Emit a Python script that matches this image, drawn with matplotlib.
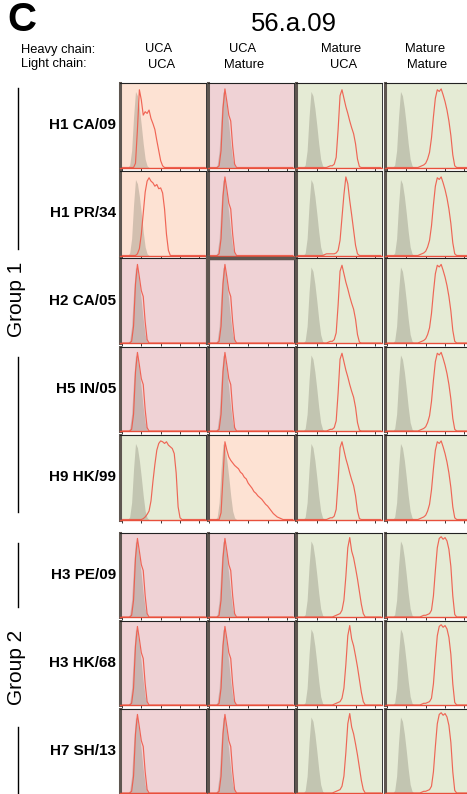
import matplotlib
matplotlib.use("Agg")
import matplotlib.pyplot as plt
from matplotlib.lines import Line2D

plt.rcParams['font.family'] = ['Liberation Sans', 'DejaVu Sans']

# ---------------- data ----------------
TITLE = "56.a.09"
PANEL_LETTER = "C"
HEAVY = ["UCA", "UCA", "Mature", "Mature"]
LIGHT = ["UCA", "Mature", "UCA", "Mature"]
ROWS = ["H1 CA/09", "H1 PR/34", "H2 CA/05", "H5 IN/05", "H9 HK/99",
        "H3 PE/09", "H3 HK/68", "H7 SH/13"]
GROUPS = ["Group 1", "Group 2"]

# log-fluorescence bin centres (decades)
BINS = [-0.1, 0.0, 0.1, 0.2, 0.3, 0.4, 0.5, 0.6, 0.7, 0.8, 0.9, 1.0, 1.1, 1.2, 1.3,
        1.4, 1.5, 1.6, 1.7, 1.8, 1.9, 2.0, 2.1, 2.2, 2.3, 2.4, 2.5, 2.6, 2.7, 2.8,
        2.9, 3.0, 3.1, 3.2, 3.3, 3.4, 3.5, 3.6, 3.7, 3.8, 3.9, 4.0, 4.1, 4.2, 4.3]

# grey filled control histogram (% of max)
CONTROL = [0, 0, 0, 0, 0, 3, 20, 60, 90, 85, 70, 50, 28, 10, 2,
           0, 0, 0, 0, 0, 0, 0, 0, 0, 0, 0, 0, 0, 0, 0,
           0, 0, 0, 0, 0, 0, 0, 0, 0, 0, 0, 0, 0, 0, 0]

# red line histograms, one per distinct shape
NEG = [0, 0, 0, 0, 0, 0, 2, 20, 70, 93, 78, 62, 55, 25, 4,
       0, 0, 0, 0, 0, 0, 0, 0, 0, 0, 0, 0, 0, 0, 0,
       0, 0, 0, 0, 0, 0, 0, 0, 0, 0, 0, 0, 0, 0, 0]
O1 = [0, 0, 0, 0, 0, 0, 0, 0, 5, 45, 92, 80, 62, 66, 64,
      68, 58, 52, 45, 32, 20, 8, 2, 0, 0, 0, 0, 0, 0, 0,
      0, 0, 0, 0, 0, 0, 0, 0, 0, 0, 0, 0, 0, 0, 0]
O2 = [0, 0, 0, 0, 0, 0, 0, 0, 0, 2, 8, 25, 50, 75, 88,
      92, 88, 86, 82, 84, 79, 80, 74, 55, 25, 6, 0, 0, 0, 0,
      0, 0, 0, 0, 0, 0, 0, 0, 0, 0, 0, 0, 0, 0, 0]
G5 = [0, 0, 0, 0, 0, 0, 0, 0, 0, 0, 0, 0, 1, 3, 6,
      10, 22, 45, 65, 82, 90, 93, 92, 90, 92, 88, 86, 84, 78, 55,
      15, 2, 0, 0, 0, 0, 0, 0, 0, 0, 0, 0, 0, 0, 0]
O5 = [0, 0, 0, 0, 0, 0, 0, 8, 50, 92, 82, 74, 70, 67, 64,
      62, 60, 56, 54, 50, 48, 43, 40, 37, 33, 31, 28, 26, 24, 21,
      18, 16, 13, 10, 7, 5, 3, 2, 1, 0, 0, 0, 0, 0, 0]
G3A = [0, 0, 0, 0, 0, 0, 0, 0, 0, 0, 0, 0, 0, 0, 0,
       0, 0, 1, 2, 2, 4, 12, 45, 85, 92, 82, 72, 64, 55, 47,
       40, 28, 10, 1, 0, 0, 0, 0, 0, 0, 0, 0, 0, 0, 0]
G3P = [0, 0, 0, 0, 0, 0, 0, 0, 0, 0, 0, 0, 0, 0, 0,
       1, 2, 2, 2, 2, 2, 3, 6, 18, 45, 72, 93, 85, 65, 48,
       30, 12, 2, 0, 0, 0, 0, 0, 0, 0, 0, 0, 0, 0, 0]
G3B = [0, 0, 0, 0, 0, 0, 0, 0, 0, 0, 0, 0, 0, 0, 0,
       0, 0, 0, 0, 0, 1, 2, 3, 4, 8, 20, 48, 82, 94, 78,
       70, 58, 45, 30, 15, 4, 0, 0, 0, 0, 0, 0, 0, 0, 0]
G4A = [0, 0, 0, 0, 0, 0, 0, 0, 0, 0, 0, 0, 0, 0, 0,
       0, 0, 0, 1, 2, 3, 5, 10, 18, 35, 60, 82, 92, 90, 93,
       86, 78, 68, 55, 38, 15, 2, 0, 0, 0, 0, 0, 0, 0, 0]
G4B = [0, 0, 0, 0, 0, 0, 0, 0, 0, 0, 0, 0, 0, 0, 0,
       0, 0, 0, 0, 1, 2, 2, 3, 4, 8, 25, 55, 82, 93, 95,
       92, 94, 90, 80, 60, 25, 3, 0, 0, 0, 0, 0, 0, 0, 0]

CURVES = {"NEG": NEG, "O1": O1, "O2": O2, "G5": G5, "O5": O5,
          "G3A": G3A, "G3P": G3P, "G3B": G3B, "G4A": G4A, "G4B": G4B}

SHAPES = [["O1", "NEG", "G3A", "G4A"],
          ["O2", "NEG", "G3P", "G4A"],
          ["NEG", "NEG", "G3A", "G4A"],
          ["NEG", "NEG", "G3A", "G4A"],
          ["G5", "O5", "G3A", "G4A"],
          ["NEG", "NEG", "G3B", "G4B"],
          ["NEG", "NEG", "G3B", "G4B"],
          ["NEG", "NEG", "G3B", "G4B"]]

# binding category of each panel: O = partial, P = none, G = strong
BINDING = [["O", "P", "G", "G"],
           ["O", "P", "G", "G"],
           ["P", "P", "G", "G"],
           ["P", "P", "G", "G"],
           ["G", "O", "G", "G"],
           ["P", "P", "G", "G"],
           ["P", "P", "G", "G"],
           ["P", "P", "G", "G"]]

# ---------------- styling / layout ----------------
BG = {"O": "#fde2d3", "P": "#efd2d5", "G": "#e5ebd5"}
W, H = 467, 794
fig = plt.figure(figsize=(W / 100, H / 100), dpi=100)


def fx(px):
    return px / W


def fy(py):
    return 1 - py / H


col_left = [120, 207.5, 295.5, 385]
row_top = [83, 171, 258.5, 346.5, 435, 532.5, 620.5, 708.5]
pw, ph = 86, 84.5

for r in range(len(ROWS)):
    for c in range(4):
        ax = fig.add_axes([fx(col_left[c]), fy(row_top[r] + ph), pw / W, ph / H])
        ax.set_facecolor(BG[BINDING[r][c]])
        ax.fill_between(BINS, CONTROL, 0, color="#7d7868", alpha=0.33, lw=0)
        ax.plot(BINS, CURVES[SHAPES[r][c]], color="#ef5848", lw=0.85, alpha=0.9)
        ax.set_xlim(-0.1, 4.34)
        ax.set_ylim(0, 100)
        ax.set_xticks([0, 1, 2, 3, 4])
        ax.set_xticklabels([])
        ax.set_yticks([])
        ax.tick_params(axis="x", direction="out", length=2.5, width=0.7,
                       color="#333333")
        heavy = (r == 2 and c == 1)
        ax.spines["left"].set_color("#5e5650")
        ax.spines["left"].set_linewidth(2.2 if not heavy else 3)
        ax.spines["top"].set_color("#222222" if not heavy else "#5e5650")
        ax.spines["top"].set_linewidth(0.8 if not heavy else 2.5)
        ax.spines["right"].set_color("#333333")
        ax.spines["right"].set_linewidth(0.7)
        ax.spines["bottom"].set_color("#e8503c")
        ax.spines["bottom"].set_linewidth(1.0)
        if c == 0:
            fig.text(fx(116), fy(row_top[r] + ph / 2), ROWS[r], ha="right",
                     va="center", fontsize=11, fontweight="bold")

# headers
fig.text(fx(7), fy(31), PANEL_LETTER, fontsize=29, fontweight="bold",
         ha="left", va="baseline")
fig.text(fx(294), fy(31), TITLE, fontsize=18.5, ha="center", va="baseline")
fig.text(fx(21), fy(52.5), "Heavy chain:", fontsize=9.3, ha="left", va="baseline")
fig.text(fx(21), fy(67.5), "Light chain:", fontsize=9.3, ha="left", va="baseline")
heavy_x = [159, 243, 341, 425]
light_x = [162, 244, 344, 427]
for c in range(4):
    fig.text(fx(heavy_x[c]), fy(52.5), HEAVY[c], fontsize=9.3, ha="center",
             va="baseline")
    fig.text(fx(light_x[c]), fy(67.5), LIGHT[c], fontsize=9.3, ha="center",
             va="baseline")

# group annotations
fig.text(fx(17), fy(299), GROUPS[0], rotation=90, fontsize=15, ha="center",
         va="center")
fig.text(fx(17), fy(667), GROUPS[1], rotation=90, fontsize=15, ha="center",
         va="center")
for y1, y2 in [(88, 249), (357, 512), (543, 607), (727, 794)]:
    fig.add_artist(Line2D([fx(17.5), fx(17.5)], [fy(y1), fy(y2)],
                          color="black", lw=1.0, transform=fig.transFigure))

fig.savefig("out.png", dpi=100)
